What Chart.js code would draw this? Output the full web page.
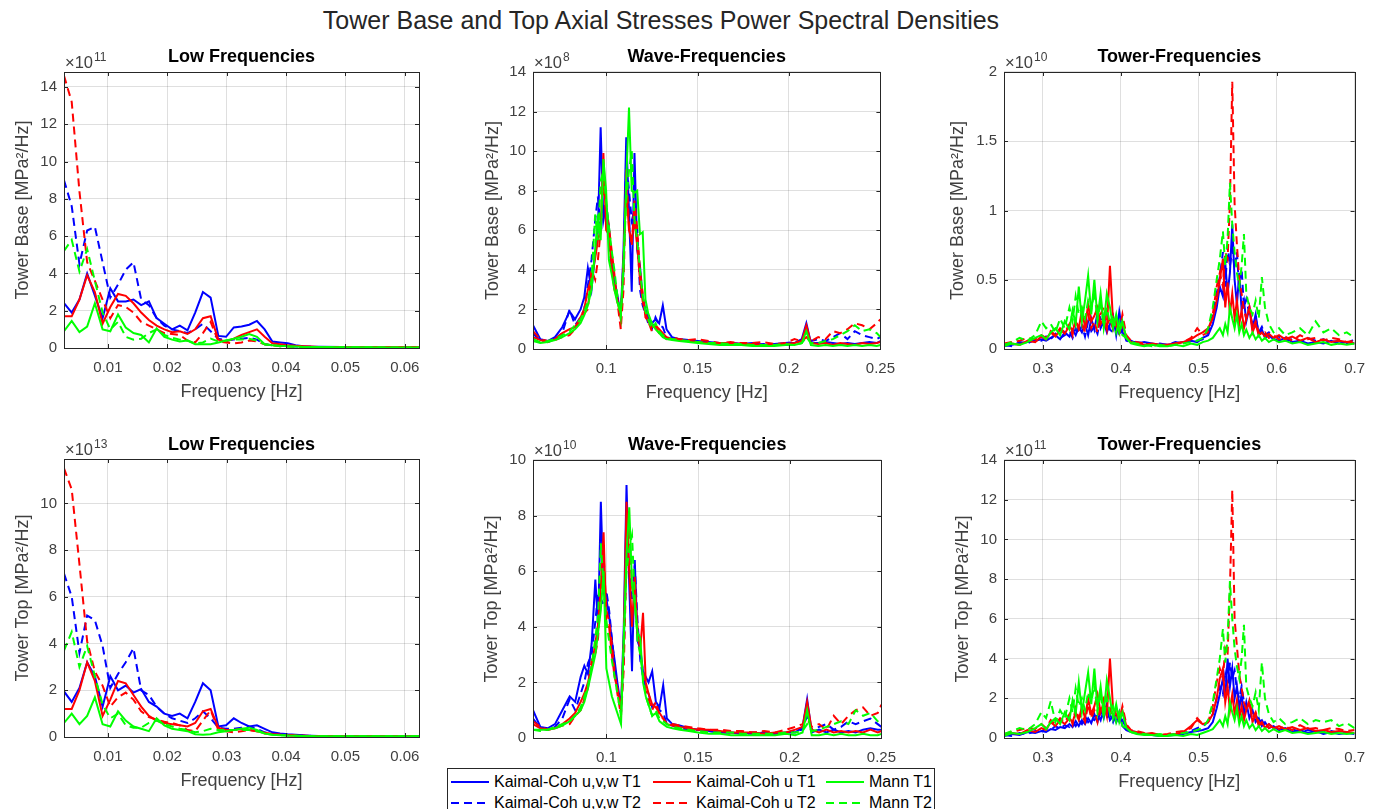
<!DOCTYPE html>
<html>
<head>
<meta charset="utf-8">
<script src="https://cdn.jsdelivr.net/npm/chart.js@4.4.1/dist/chart.umd.min.js"></script>
<style>
  body { margin: 0; width: 1386px; height: 809px; background: #fff; position: relative; overflow: hidden;
         font-family: "Liberation Sans", Arial, Helvetica, sans-serif; }
  #mainTitle { position: absolute; left: 0; top: 5px; width: 1322px; text-align: center; font-size: 25px; line-height: 30px; color: #262626; }
  canvas { position: absolute; }
  #legend { position: absolute; left: 447px; top: 768px; width: 486px; height: 60px; border: 1px solid #262626; background: #fff; }
  .item { position: absolute; font-size: 16px; line-height: 18px; color: #000; white-space: nowrap; }
  .item svg { vertical-align: top; margin-right: 5px; }
</style>
</head>
<body>
<div id="mainTitle">Tower Base and Top Axial Stresses Power Spectral Densities</div>
<canvas id="c1"></canvas>
<canvas id="c2"></canvas>
<canvas id="c3"></canvas>
<canvas id="c4"></canvas>
<canvas id="c5"></canvas>
<canvas id="c6"></canvas>
<div id="legend"></div>
<script>
// legend names (plot order)
const seriesNames = ["Kaimal-Coh u,v,w T1", "Kaimal-Coh u,v,w T2", "Kaimal-Coh u T1", "Kaimal-Coh u T2", "Mann T1", "Mann T2"];

// frequency bins [Hz]
const freqLow = [0.0026,0.0039,0.0052,0.0065,0.0078,0.0091,0.0104,0.0117,0.0130,0.0143,0.0156,0.0169,0.0182,0.0195,0.0208,0.0221,0.0234,0.0247,0.0260,0.0273,0.0286,0.0299,0.0312,0.0325,0.0338,0.0351,0.0364,0.0377,0.0390,0.0403,0.0416,0.0429,0.0442,0.0455,0.0494,0.0533,0.0572,0.0611,0.0624];
const freqWave = [0.060,0.064,0.068,0.072,0.076,0.080,0.083,0.086,0.088,0.090,0.092,0.094,0.0955,0.097,0.0985,0.100,0.1015,0.103,0.1045,0.106,0.108,0.1095,0.111,0.1125,0.114,0.1155,0.117,0.1185,0.120,0.1215,0.123,0.125,0.127,0.129,0.131,0.133,0.136,0.140,0.145,0.150,0.156,0.162,0.168,0.174,0.180,0.186,0.192,0.198,0.203,0.207,0.2095,0.212,0.216,0.220,0.224,0.228,0.232,0.236,0.240,0.244,0.248,0.250];
const freqTower = [0.250,0.260,0.270,0.280,0.290,0.298,0.304,0.310,0.316,0.322,0.328,0.334,0.338,0.342,0.346,0.350,0.354,0.358,0.362,0.366,0.370,0.374,0.378,0.382,0.386,0.390,0.394,0.398,0.402,0.407,0.413,0.420,0.430,0.440,0.450,0.460,0.470,0.480,0.490,0.498,0.505,0.512,0.518,0.523,0.527,0.531,0.534,0.537,0.540,0.543,0.546,0.549,0.552,0.555,0.558,0.561,0.565,0.569,0.573,0.577,0.581,0.585,0.590,0.596,0.603,0.611,0.620,0.630,0.640,0.650,0.660,0.670,0.680,0.690,0.700];

// tick labels
const ticksLowX = [0.01, 0.02, 0.03, 0.04, 0.05, 0.06];
const ticksWaveX = [0.1, 0.15, 0.2, 0.25];
const ticksTowerX = [0.3, 0.4, 0.5, 0.6, 0.7];
const ticksBaseLowY = [0, 2, 4, 6, 8, 10, 12, 14];
const ticksBaseWaveY = [0, 2, 4, 6, 8, 10, 12, 14];
const ticksBaseTowerY = [0, 0.5, 1, 1.5, 2];
const ticksTopLowY = [0, 2, 4, 6, 8, 10];
const ticksTopWaveY = [0, 2, 4, 6, 8, 10];
const ticksTopTowerY = [0, 2, 4, 6, 8, 10, 12, 14];

// Tower base, low frequencies (x1e11)
const baseLowUvwT1 = [2.4,1.9,2.6,4.0,2.8,1.6,3.2,2.5,2.5,2.6,2.3,2.5,1.6,1.3,1.0,1.2,0.95,1.9,3.0,2.7,0.65,0.6,1.1,1.15,1.25,1.45,1.0,0.35,0.3,0.25,0.15,0.1,0.08,0.07,0.05,0.04,0.03,0.03,0.03];
const baseLowUvwT2 = [9.0,7.6,4.5,6.3,6.5,4.6,2.7,3.4,4.2,4.6,2.6,2.3,1.6,1.2,1.0,0.9,0.8,1.0,1.3,0.9,0.5,0.4,0.45,0.5,0.55,0.45,0.2,0.15,0.12,0.1,0.08,0.07,0.06,0.05,0.04,0.03,0.03,0.03,0.03];
const baseLowUT1 = [1.7,1.7,2.6,3.9,3.0,1.3,2.2,2.9,2.8,2.4,1.9,1.5,1.2,1.0,0.85,0.9,0.75,1.0,1.6,1.7,0.45,0.35,0.5,0.7,0.85,1.0,0.6,0.25,0.2,0.15,0.12,0.1,0.08,0.06,0.05,0.05,0.05,0.05,0.05];
const baseLowUT2 = [14.6,13.2,8.4,4.6,3.6,2.6,1.6,2.3,2.2,1.9,1.4,1.2,1.0,0.8,0.75,0.7,0.4,0.3,0.8,1.4,0.35,0.3,0.25,0.3,0.4,0.35,0.2,0.15,0.1,0.08,0.07,0.06,0.05,0.05,0.04,0.04,0.03,0.03,0.03];
const baseLowMannT1 = [0.9,1.45,0.85,1.15,2.4,1.0,0.9,1.8,1.1,0.8,0.7,0.3,1.05,0.6,0.45,0.35,0.4,0.2,0.2,0.2,0.3,0.4,0.5,0.6,0.75,0.6,0.2,0.15,0.12,0.1,0.08,0.06,0.05,0.05,0.04,0.04,0.03,0.03,0.03];
const baseLowMannT2 = [5.2,5.8,4.1,5.3,3.6,1.9,1.0,1.4,0.6,0.45,0.5,0.8,1.0,0.7,0.55,0.45,0.4,0.25,0.3,0.5,0.35,0.4,0.45,0.45,0.5,0.4,0.2,0.15,0.1,0.08,0.07,0.06,0.05,0.05,0.04,0.04,0.03,0.03,0.03];

// Tower base, wave frequencies (x1e8)
const baseWaveUvwT1 = [1.2,0.5,0.4,0.6,1.1,1.9,1.5,2.0,2.6,4.1, 3.0,4.8,6.0,11.2,6.5,7.3,6.2,4.5,3.5,2.8, 1.7,5.0,10.7,7.0,2.9,9.9,5.0,4.2,2.6,2.0, 1.6,1.3,1.5,1.3,2.2,1.0,0.6,0.5,0.45,0.4, 0.35,0.3,0.3,0.25,0.3,0.2,0.25,0.3,0.3,0.5, 1.3,0.3,0.3,0.35,0.3,0.25,0.3,0.25,0.3,0.35, 0.3,0.4];
const baseWaveUvwT2 = [0.8,0.4,0.35,0.5,0.8,2.0,1.2,1.6,2.0,3.2, 4.5,6.5,7.7,6.0,7.4,6.5,5.5,4.0,3.2,2.6, 1.8,4.0,9.6,8.0,6.5,7.0,6.1,3.0,2.2,1.8, 1.3,1.0,1.6,1.2,1.1,0.6,0.5,0.4,0.45,0.35, 0.3,0.25,0.3,0.25,0.2,0.25,0.2,0.3,0.35,0.4, 0.9,0.4,0.5,0.4,0.6,0.8,0.5,0.9,0.7,0.6, 0.5,0.6];
const baseWaveUT1 = [0.6,0.45,0.35,0.5,0.8,1.0,1.1,1.6,2.0,3.0, 3.6,4.6,5.5,6.0,9.9,6.0,5.8,4.2,3.0,2.6, 1.5,4.5,8.2,6.0,5.5,6.5,5.2,3.5,2.4,1.8, 1.4,1.1,1.2,1.0,0.8,0.6,0.5,0.45,0.4,0.35, 0.3,0.3,0.3,0.25,0.25,0.2,0.2,0.25,0.3,0.4, 1.2,0.3,0.25,0.3,0.2,0.3,0.25,0.2,0.3,0.25, 0.3,0.35];
const baseWaveUT2 = [0.9,0.5,0.4,0.45,0.6,0.7,1.0,1.5,1.8,2.0, 4.0,3.5,4.5,6.0,8.5,7.0,6.2,5.0,3.8,2.5, 1.0,3.0,9.1,6.2,5.2,7.5,6.0,4.0,2.8,1.6, 1.4,0.9,1.1,0.8,0.7,0.5,0.6,0.5,0.45,0.5, 0.4,0.3,0.35,0.3,0.3,0.35,0.25,0.3,0.5,0.4, 0.6,0.4,0.6,0.5,0.9,0.8,1.0,1.3,1.2,1.0, 1.3,1.5];
const baseWaveMannT1 = [0.4,0.3,0.35,0.45,0.6,0.8,1.0,1.3,1.7,2.2, 3.0,5.0,6.8,5.5,9.6,8.0,4.5,3.8,3.0,2.4, 1.8,4.0,8.5,12.2,8.0,7.9,8.0,5.8,5.9,2.5, 1.8,1.3,1.0,0.8,0.6,0.5,0.45,0.4,0.35,0.3, 0.25,0.2,0.2,0.2,0.15,0.15,0.15,0.2,0.2,0.3, 0.9,0.2,0.15,0.2,0.15,0.2,0.15,0.2,0.15,0.2, 0.15,0.2];
const baseWaveMannT2 = [0.5,0.35,0.4,0.5,0.7,0.9,1.2,1.5,1.9,2.4, 3.5,6.8,5.5,8.5,9.0,7.5,6.2,5.0,4.0,2.8, 1.6,4.5,7.5,9.0,10.0,6.5,5.5,4.0,2.7,1.9, 1.5,1.0,1.3,0.9,0.7,0.6,0.5,0.45,0.4,0.35, 0.3,0.3,0.25,0.25,0.2,0.2,0.2,0.25,0.2,0.3, 0.6,0.3,0.3,0.4,0.5,0.7,0.9,1.2,0.9,1.0, 0.8,0.6];

// Tower base, tower frequencies (x1e10)
const baseTowerUvwT1 = [0.02,0.03,0.04,0.05,0.06, 0.07,0.06,0.08,0.10,0.07, 0.12,0.09,0.14,0.10,0.16, 0.12,0.18,0.10,0.22,0.14, 0.26,0.15,0.20,0.12,0.18, 0.24,0.10,0.27,0.12,0.08, 0.06,0.04,0.05,0.04,0.03, 0.03,0.04,0.05,0.06,0.05, 0.08,0.10,0.18,0.30,0.45, 0.38,0.62,0.40,0.55,0.90, 0.50,0.32,0.55,0.28,0.35, 0.20,0.30,0.15,0.25,0.10, 0.14,0.08,0.10,0.07,0.06, 0.08,0.05,0.06,0.04,0.05, 0.04,0.06,0.04,0.05,0.04];
const baseTowerUvwT2 = [0.03,0.02,0.05,0.04,0.07, 0.06,0.09,0.07,0.11,0.08, 0.10,0.13,0.08,0.15,0.11, 0.17,0.09,0.20,0.13,0.16, 0.11,0.22,0.17,0.26,0.14, 0.12,0.20,0.09,0.15,0.06, 0.05,0.05,0.04,0.03,0.04, 0.03,0.05,0.04,0.07,0.06, 0.07,0.12,0.25,0.40,0.52, 0.70,0.45,0.75,0.60,0.72, 0.58,0.70,0.42,0.58,0.30, 0.36,0.25,0.18,0.22,0.12, 0.16,0.10,0.12,0.08,0.09, 0.06,0.07,0.05,0.08,0.06, 0.07,0.05,0.06,0.04,0.07];
const baseTowerUT1 = [0.03,0.04,0.03,0.06,0.05, 0.09,0.07,0.12,0.09,0.14, 0.11,0.17,0.13,0.20,0.15, 0.28,0.16,0.32,0.20,0.24, 0.30,0.18,0.22,0.14,0.60, 0.20,0.16,0.12,0.18,0.08, 0.05,0.04,0.03,0.04,0.03, 0.03,0.04,0.05,0.07,0.10, 0.12,0.15,0.22,0.35,0.50, 0.65,0.30,0.48,0.25,0.40, 0.22,0.35,0.18,0.28,0.15, 0.22,0.30,0.12,0.18,0.10, 0.12,0.09,0.11,0.08,0.10, 0.07,0.09,0.06,0.08,0.05, 0.07,0.05,0.06,0.05,0.04];
const baseTowerUT2 = [0.04,0.05,0.06,0.08,0.07, 0.10,0.08,0.13,0.10,0.15, 0.12,0.18,0.10,0.22,0.14, 0.18,0.12,0.25,0.15,0.20, 0.12,0.25,0.30,0.17,0.22, 0.14,0.20,0.12,0.25,0.10, 0.06,0.05,0.04,0.03,0.02, 0.03,0.04,0.05,0.08,0.15, 0.10,0.12,0.25,0.45,0.55, 0.45,0.70,0.65,1.05,1.93, 1.05,0.75,0.50,0.40,0.28, 0.22,0.30,0.15,0.20,0.12, 0.10,0.12,0.08,0.10,0.07, 0.09,0.06,0.10,0.07,0.08, 0.06,0.08,0.07,0.05,0.06];
const baseTowerMannT1 = [0.02,0.04,0.03,0.05,0.08, 0.10,0.07,0.12,0.15,0.10, 0.20,0.14,0.28,0.18,0.45, 0.20,0.35,0.53,0.25,0.50, 0.22,0.40,0.18,0.40,0.30, 0.15,0.25,0.12,0.20,0.08, 0.04,0.03,0.02,0.03,0.02, 0.02,0.03,0.02,0.04,0.03, 0.05,0.06,0.08,0.12,0.15, 0.10,0.18,0.12,0.30,0.22, 0.15,0.25,0.12,0.18,0.10, 0.14,0.08,0.12,0.07,0.10, 0.06,0.08,0.05,0.07,0.05, 0.06,0.04,0.05,0.03,0.04, 0.05,0.03,0.04,0.03,0.04];
const baseTowerMannT2 = [0.03,0.05,0.08,0.06,0.10, 0.20,0.15,0.18,0.12,0.22, 0.15,0.30,0.20,0.38,0.25, 0.30,0.22,0.35,0.28,0.42, 0.20,0.35,0.15,0.30,0.18, 0.25,0.12,0.20,0.10,0.08, 0.05,0.04,0.03,0.02,0.03, 0.02,0.03,0.04,0.05,0.06, 0.08,0.15,0.30,0.50,0.65, 0.85,0.60,0.80,1.20,0.90, 0.70,0.55,0.45,0.60,0.83, 0.40,0.30,0.25,0.35,0.22, 0.52,0.30,0.18,0.12,0.15, 0.10,0.12,0.15,0.10,0.20, 0.12,0.15,0.10,0.12,0.08];

// Tower top, low frequencies (x1e13)
const topLowUvwT1 = [1.95,1.5,2.1,3.2,2.6,1.3,2.6,2.0,2.2,1.9,2.05,1.5,1.3,1.0,0.9,1.0,0.8,1.5,2.3,2.0,0.45,0.5,0.8,0.6,0.45,0.5,0.35,0.2,0.15,0.12,0.1,0.07,0.05,0.04,0.03,0.03,0.03,0.03,0.03];
const topLowUvwT2 = [7.0,6.0,3.6,5.2,5.0,3.9,2.1,2.7,3.2,3.8,2.0,1.8,1.3,1.0,0.8,0.7,0.6,0.8,1.1,0.8,0.4,0.35,0.35,0.4,0.45,0.35,0.2,0.15,0.1,0.08,0.07,0.06,0.05,0.04,0.03,0.03,0.03,0.03,0.03];
const topLowUT1 = [1.2,1.2,2.0,3.2,2.4,0.9,1.6,2.4,2.3,1.8,1.3,0.9,0.7,0.6,0.55,0.5,0.45,0.6,1.1,1.2,0.4,0.3,0.3,0.35,0.3,0.25,0.18,0.13,0.1,0.08,0.06,0.05,0.04,0.03,0.03,0.03,0.03,0.03,0.03];
const topLowUT2 = [11.5,10.6,7.4,4.1,2.8,2.2,1.3,1.7,1.9,1.6,1.1,0.85,0.75,0.65,0.6,0.5,0.3,0.25,0.7,1.15,0.3,0.25,0.2,0.25,0.3,0.25,0.15,0.12,0.1,0.08,0.06,0.05,0.04,0.03,0.03,0.03,0.03,0.03,0.03];
const topLowMannT1 = [0.6,1.0,0.55,0.9,1.7,0.55,0.45,1.1,0.7,0.45,0.35,0.25,0.8,0.5,0.35,0.3,0.25,0.12,0.1,0.12,0.2,0.25,0.3,0.35,0.4,0.3,0.15,0.1,0.08,0.06,0.05,0.04,0.03,0.03,0.03,0.03,0.03,0.03,0.03];
const topLowMannT2 = [3.7,4.5,3.0,3.9,2.6,1.4,0.8,1.0,0.5,0.4,0.4,0.6,0.7,0.55,0.45,0.35,0.3,0.2,0.25,0.35,0.3,0.3,0.3,0.3,0.3,0.25,0.15,0.1,0.08,0.06,0.05,0.04,0.03,0.03,0.03,0.03,0.03,0.03,0.03];

// Tower top, wave frequencies (x1e10)
const topWaveUvwT1 = [1.0,0.4,0.35,0.5,1.0,1.5,1.3,2.2,2.6,2.3, 3.4,5.7,4.0,8.5,5.2,5.0,4.4,3.5,2.8,2.0, 1.1,4.0,9.1,5.5,2.4,6.4,3.5,3.2,2.4,2.2, 2.0,2.4,1.3,1.1,1.9,0.7,0.5,0.45,0.35,0.3, 0.25,0.2,0.2,0.15,0.2,0.15,0.15,0.2,0.2,0.4, 1.4,0.2,0.3,0.2,0.3,0.2,0.25,0.2,0.3,0.35, 0.3,0.3];
const topWaveUvwT2 = [0.7,0.35,0.3,0.4,0.7,1.4,1.0,1.6,2.0,2.7, 3.0,4.2,5.2,5.0,4.8,5.3,4.6,3.6,2.6,1.8, 0.9,3.0,7.0,6.0,5.0,6.2,4.2,2.8,2.2,1.8, 1.6,1.1,1.3,1.0,0.9,0.5,0.45,0.35,0.3,0.3, 0.25,0.2,0.2,0.15,0.15,0.2,0.15,0.2,0.25,0.3, 0.8,0.3,0.4,0.5,0.3,0.4,0.6,0.5,0.6,0.7, 0.5,0.4];
const topWaveUT1 = [0.5,0.35,0.3,0.35,0.5,0.7,0.9,1.3,1.6,2.0, 2.6,3.4,4.1,5.5,7.4,4.0,4.0,3.0,2.2,1.8, 1.0,3.5,8.5,6.0,4.0,5.8,3.7,3.2,4.5,2.0, 1.6,1.2,1.1,0.9,0.7,0.5,0.45,0.4,0.35,0.3, 0.3,0.25,0.2,0.2,0.2,0.15,0.2,0.2,0.3,0.4, 1.3,0.3,0.2,0.3,0.2,0.25,0.2,0.25,0.2,0.3, 0.2,0.25];
const topWaveUT2 = [0.6,0.4,0.3,0.35,0.45,0.5,0.8,1.0,1.4,1.8, 2.8,3.0,3.6,5.2,6.6,4.6,4.2,3.4,2.4,1.6, 0.8,2.5,6.5,7.6,5.4,5.0,4.0,3.0,2.4,1.7, 1.4,1.0,1.3,0.8,0.7,0.5,0.5,0.45,0.4,0.35, 0.3,0.3,0.25,0.25,0.2,0.25,0.2,0.3,0.4,0.5, 0.7,0.4,0.5,0.3,0.8,0.5,0.8,1.0,1.1,0.8, 0.9,1.2];
const topWaveMannT1 = [0.3,0.3,0.3,0.35,0.45,0.6,0.8,1.0,1.3,1.8, 2.4,3.0,3.8,4.6,6.0,2.5,2.0,1.5,1.2,0.9, 0.5,3.5,6.6,8.3,5.5,4.8,3.8,3.6,2.0,1.5, 1.2,0.8,0.9,0.6,0.5,0.4,0.35,0.3,0.25,0.2, 0.15,0.15,0.1,0.1,0.1,0.1,0.1,0.15,0.1,0.2, 1.0,0.1,0.1,0.15,0.1,0.15,0.1,0.1,0.15,0.1, 0.1,0.15];
const topWaveMannT2 = [0.3,0.25,0.3,0.4,0.5,0.6,0.8,1.1,1.5,1.9, 2.6,3.6,4.4,7.0,5.4,4.2,3.5,2.8,2.2,1.6, 0.8,3.6,6.0,6.8,7.3,5.0,3.5,3.0,2.2,1.5, 1.2,0.8,1.0,0.7,0.6,0.5,0.4,0.35,0.3,0.25, 0.2,0.2,0.2,0.15,0.15,0.15,0.15,0.2,0.2,0.25, 0.5,0.25,0.3,0.4,0.5,0.6,0.5,1.0,0.8,0.9, 0.6,0.5];

// Tower top, tower frequencies (x1e11)
const topTowerUvwT1 = [0.1,0.2,0.15,0.3,0.25, 0.35,0.3,0.45,0.4,0.55, 0.5,0.7,0.55,0.85,0.6, 0.9,0.7,1.0,0.75,1.2, 0.8,1.4,1.0,1.7,0.9, 1.1,0.8,1.3,0.6,0.4, 0.3,0.25,0.2,0.15,0.1, 0.12,0.15,0.2,0.3,0.35, 0.4,0.5,0.8,1.5,2.2, 3.0,2.0,4.0,2.6,3.5, 2.0,2.6,1.5,2.2,1.2, 1.8,1.0,1.4,0.8,1.0, 0.6,0.8,0.5,0.6,0.4, 0.5,0.3,0.4,0.25,0.35, 0.2,0.3,0.2,0.25,0.2];
const topTowerUvwT2 = [0.15,0.1,0.25,0.2,0.35, 0.3,0.5,0.4,0.6,0.45, 0.65,0.55,0.8,0.6,0.9, 0.7,1.1,0.8,1.0,0.9, 1.2,0.9,1.5,1.0,1.2, 0.8,1.3,0.7,0.9,0.5, 0.35,0.3,0.2,0.2,0.15, 0.15,0.2,0.25,0.35,0.5, 0.6,0.8,1.2,2.0,2.6, 2.2,3.2,2.5,3.8,3.0, 3.4,2.4,2.0,2.6,1.8, 1.5,1.8,1.1,1.2,0.8, 0.9,0.6,0.7,0.5,0.55, 0.4,0.45,0.3,0.4,0.35, 0.3,0.35,0.25,0.3,0.2];
const topTowerUT1 = [0.15,0.25,0.2,0.4,0.3, 0.5,0.4,0.8,0.6,0.9, 0.7,1.0,0.8,1.3,0.9, 1.6,1.0,2.0,1.2,1.6, 2.2,1.3,1.8,1.1,4.0, 1.5,1.2,0.9,1.4,0.6, 0.35,0.3,0.2,0.25,0.15, 0.15,0.2,0.3,0.6,0.9, 0.7,0.8,1.2,2.0,3.0, 3.5,1.8,2.6,1.4,2.2, 1.2,1.9,1.0,1.6,0.9, 1.4,1.8,0.8,1.2,0.6, 0.8,0.5,0.7,0.5,0.6, 0.45,0.55,0.4,0.5,0.35, 0.4,0.3,0.35,0.3,0.25];
const topTowerUT2 = [0.2,0.3,0.4,0.5,0.45, 0.7,0.5,0.9,0.7,1.0, 0.8,1.2,0.7,1.5,1.0, 1.2,0.8,1.7,1.0,1.4, 0.8,1.7,2.0,1.2,1.5, 1.0,1.4,0.9,1.6,0.7, 0.4,0.35,0.25,0.2,0.15, 0.2,0.3,0.35,0.5,1.0, 0.7,0.8,1.6,2.8,3.5, 3.0,4.5,4.2,7.5,12.5, 6.0,4.6,3.2,2.5,1.8, 1.4,1.9,1.0,1.3,0.8, 0.7,0.8,0.5,0.65,0.45, 0.6,0.4,0.65,0.45,0.5, 0.4,0.5,0.45,0.35,0.4];
const topTowerMannT1 = [0.1,0.25,0.2,0.3,0.5, 0.7,0.45,0.8,1.0,0.7, 1.3,0.9,1.9,1.2,2.8, 1.3,2.3,3.3,1.7,3.5, 1.5,2.6,1.2,2.9,2.0, 1.0,1.7,0.8,1.3,0.5, 0.3,0.2,0.15,0.15,0.1, 0.1,0.15,0.1,0.2,0.15, 0.25,0.35,0.45,0.7,0.9, 0.6,1.1,0.7,1.8,1.3, 0.9,1.5,0.7,1.1,0.6, 0.9,0.5,0.7,0.4,0.6, 0.35,0.5,0.3,0.45,0.3, 0.4,0.25,0.3,0.2,0.25, 0.3,0.2,0.25,0.2,0.25];
const topTowerMannT2 = [0.2,0.35,0.5,0.4,0.7, 1.3,1.0,1.85,0.8,1.4, 1.0,2.0,1.3,2.5,1.6, 2.0,1.4,2.3,1.8,2.7, 1.3,2.3,1.0,2.0,1.2, 1.6,0.8,1.3,0.6,0.5, 0.3,0.25,0.2,0.15,0.2, 0.15,0.2,0.25,0.3,0.4, 0.5,0.9,1.8,3.0,4.0, 5.5,3.8,5.0,7.9,6.0, 4.5,3.6,3.0,4.0,5.7, 2.6,2.0,1.6,2.3,1.4, 3.8,2.0,1.2,0.8,1.0, 0.7,0.8,1.0,0.7,0.9, 0.8,0.9,0.6,0.75,0.5];

// line styles per series
const seriesColors = ["#0000ff", "#0000ff", "#ff0000", "#ff0000", "#00ff00", "#00ff00"];
const seriesDash = [[], [8, 5], [], [8, 5], [], [8, 5]];

Chart.defaults.font.family = '"Liberation Sans", Arial, Helvetica, sans-serif';

// box, inward ticks and the x10^n label (MATLAB look)
const matlabFrame = {
  id: "matlabFrame",
  afterDraw(chart, args, opts) {
    const { ctx, chartArea: a, scales } = chart;
    ctx.save();
    ctx.strokeStyle = "#262626";
    ctx.lineWidth = 1;
    ctx.beginPath();
    scales.x.ticks.forEach(t => {
      const px = Math.round(scales.x.getPixelForValue(t.value)) + 0.5;
      ctx.moveTo(px, a.bottom); ctx.lineTo(px, a.bottom - 4);
      ctx.moveTo(px, a.top); ctx.lineTo(px, a.top + 4);
    });
    scales.y.ticks.forEach(t => {
      const py = Math.round(scales.y.getPixelForValue(t.value)) + 0.5;
      ctx.moveTo(a.left, py); ctx.lineTo(a.left + 4, py);
      ctx.moveTo(a.right, py); ctx.lineTo(a.right - 4, py);
    });
    ctx.stroke();
    ctx.strokeRect(Math.round(a.left) + 0.5, Math.round(a.top) + 0.5, Math.round(a.right - a.left), Math.round(a.bottom - a.top));

    ctx.fillStyle = "#404040";
    ctx.textBaseline = "alphabetic";
    ctx.font = '16.5px "Liberation Sans", Arial, sans-serif';
    ctx.fillText("\u00d710", a.left + 1, a.top - 4);
    const w = ctx.measureText("\u00d710").width;
    ctx.font = '12px "Liberation Sans", Arial, sans-serif';
    ctx.fillText(String(opts.exp), a.left + 2 + w, a.top - 11);
    ctx.restore();
  }
};

function makePanel(p) {
  const canvas = document.getElementById(p.id);
  canvas.width = p.w + 80;
  canvas.height = p.h + 94;
  canvas.style.left = p.left + "px";
  canvas.style.top = p.top + "px";

  const datasets = p.series.map((ys, i) => ({
    label: seriesNames[i],
    data: p.x.map((x, k) => ({ x: x, y: ys[k] })),
    borderColor: seriesColors[i],
    borderDash: seriesDash[i],
    borderWidth: 2,
    pointRadius: 0,
    tension: 0,
    order: 5 - i
  }));

  new Chart(canvas, {
    type: "line",
    data: { datasets },
    options: {
      responsive: false,
      animation: false,
      events: [],
      layout: { padding: { left: 0, right: 16, top: 0, bottom: 0 } },
      plugins: {
        legend: { display: false },
        tooltip: { enabled: false },
        title: {
          display: true, text: p.title, fullSize: false, color: "#000",
          font: { size: 18, weight: "bold" },
          padding: { top: p.titlePad, bottom: 32 - 21.6 - p.titlePad }
        },
        matlabFrame: { exp: p.exp }
      },
      scales: {
        x: {
          type: "linear", min: p.xmin, max: p.xmax,
          afterBuildTicks: s => { s.ticks = p.xticks.map(v => ({ value: v })); },
          afterFit: s => { s.height = 62; },
          grid: { color: "rgba(38,38,38,0.15)", drawTicks: false },
          border: { display: false },
          ticks: { autoSkip: false, maxRotation: 0, padding: 11, color: "#404040", font: { size: 15 }, callback: v => String(v) },
          title: { display: true, text: "Frequency [Hz]", color: "#404040", font: { size: 18 }, padding: { top: 0, bottom: 7.5 } }
        },
        y: {
          type: "linear", min: 0, max: p.ymax,
          afterBuildTicks: s => { s.ticks = p.yticks.map(v => ({ value: v })); },
          afterFit: s => { s.width = 64; },
          grid: { color: "rgba(38,38,38,0.15)", drawTicks: false },
          border: { display: false },
          ticks: { autoSkip: false, padding: 7, color: "#404040", font: { size: 15 }, callback: v => String(v) },
          title: { display: true, text: p.ylabel, color: "#404040", font: { size: 18 }, padding: { top: p.ytitlePad, bottom: 0 } }
        }
      }
    },
    plugins: [matlabFrame]
  });
}

const panels = [
  { id: "c1", left: 0, top: 40, w: 355, h: 276, title: "Low Frequencies", ylabel: "Tower Base [MPa\u00b2/Hz]", exp: 11,
    x: freqLow, xmin: 0.0026, xmax: 0.0624, ymax: 14.8, xticks: ticksLowX, yticks: ticksBaseLowY, titlePad: 5.9, ytitlePad: 12.2,
    series: [baseLowUvwT1, baseLowUvwT2, baseLowUT1, baseLowUT2, baseLowMannT1, baseLowMannT2] },
  { id: "c2", left: 469, top: 40, w: 357, h: 277, title: "Wave-Frequencies", ylabel: "Tower Base [MPa\u00b2/Hz]", exp: 8,
    x: freqWave, xmin: 0.06, xmax: 0.25, ymax: 14, xticks: ticksWaveX, yticks: ticksBaseWaveY, titlePad: 5.9, ytitlePad: 13.2,
    series: [baseWaveUvwT1, baseWaveUvwT2, baseWaveUT1, baseWaveUT2, baseWaveMannT1, baseWaveMannT2] },
  { id: "c3", left: 940, top: 40, w: 356, h: 277, title: "Tower-Frequencies", ylabel: "Tower Base [MPa\u00b2/Hz]", exp: 10,
    x: freqTower, xmin: 0.25, xmax: 0.7, ymax: 2, xticks: ticksTowerX, yticks: ticksBaseTowerY, titlePad: 5.9, ytitlePad: 7.2,
    series: [baseTowerUvwT1, baseTowerUvwT2, baseTowerUT1, baseTowerUT2, baseTowerMannT1, baseTowerMannT2] },
  { id: "c4", left: 0, top: 427, w: 355, h: 278, title: "Low Frequencies", ylabel: "Tower Top [MPa\u00b2/Hz]", exp: 13,
    x: freqLow, xmin: 0.0026, xmax: 0.0624, ymax: 11.9, xticks: ticksLowX, yticks: ticksTopLowY, titlePad: 7.2, ytitlePad: 12.2,
    series: [topLowUvwT1, topLowUvwT2, topLowUT1, topLowUT2, topLowMannT1, topLowMannT2] },
  { id: "c5", left: 469, top: 428, w: 358, h: 278, title: "Wave-Frequencies", ylabel: "Tower Top [MPa\u00b2/Hz]", exp: 10,
    x: freqWave, xmin: 0.06, xmax: 0.25, ymax: 10, xticks: ticksWaveX, yticks: ticksTopWaveY, titlePad: 6.2, ytitlePad: 12.2,
    series: [topWaveUvwT1, topWaveUvwT2, topWaveUT1, topWaveUT2, topWaveMannT1, topWaveMannT2] },
  { id: "c6", left: 940, top: 428, w: 356, h: 278, title: "Tower-Frequencies", ylabel: "Tower Top [MPa\u00b2/Hz]", exp: 11,
    x: freqTower, xmin: 0.25, xmax: 0.7, ymax: 14, xticks: ticksTowerX, yticks: ticksTopTowerY, titlePad: 6.2, ytitlePad: 12.2,
    series: [topTowerUvwT1, topTowerUvwT2, topTowerUT1, topTowerUT2, topTowerMannT1, topTowerMannT2] }
];

panels.forEach(makePanel);

// legend: 3 columns x 2 rows, filled column-wise
const legend = document.getElementById("legend");
const colLeft = [3, 205, 378];
const rowTop = [4, 25];
seriesNames.forEach((name, i) => {
  const div = document.createElement("div");
  div.className = "item";
  div.style.left = colLeft[Math.floor(i / 2)] + "px";
  div.style.top = rowTop[i % 2] + "px";
  div.innerHTML = '<svg width="38" height="18"><line x1="0" y1="9" x2="38" y2="9" stroke="' + seriesColors[i] +
    '" stroke-width="2" stroke-dasharray="' + seriesDash[i].join(" ") + '"/></svg>' + name;
  legend.appendChild(div);
});
</script>
</body>
</html>
